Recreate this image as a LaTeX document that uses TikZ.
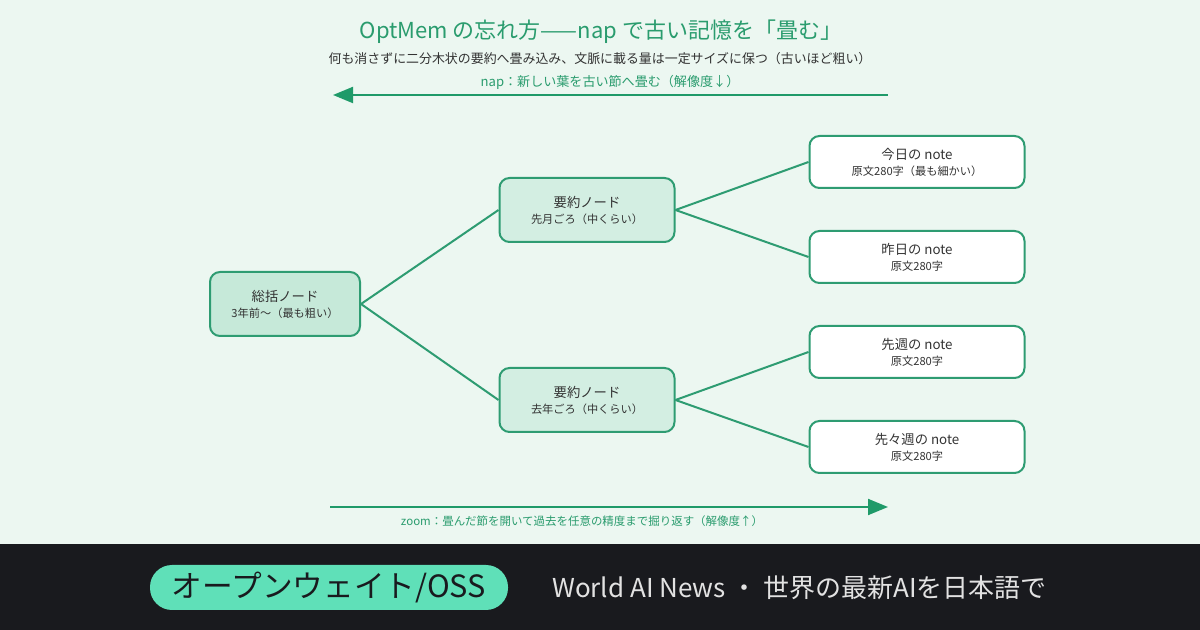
\documentclass[tikz,border=0pt]{standalone}
\usepackage{fontspec}
\setmainfont{Noto Sans CJK JP}
\usetikzlibrary{arrows.meta,positioning}

\definecolor{bgmint}{HTML}{ECF7F1}
\definecolor{edgegreen}{HTML}{2E9C72}
\definecolor{tipgreen}{HTML}{1F9A69}
\definecolor{titlegreen}{HTML}{2A9C6E}
\definecolor{rootfill}{HTML}{C6E9D9}
\definecolor{midfill}{HTML}{D3EEE2}
\definecolor{inkgray}{HTML}{333333}
\definecolor{footdark}{HTML}{191A1E}
\definecolor{pillmint}{HTML}{5FE0B8}
\definecolor{footgray}{HTML}{E2E2E2}

\tikzset{
  treebox/.style={draw=edgegreen,line width=1.5pt,rounded corners=7.5pt,
    align=center,text=inkgray,inner sep=0pt},
  rootbox/.style={treebox,fill=rootfill,minimum width=112.5pt,minimum height=48pt},
  midbox/.style={treebox,fill=midfill,minimum width=131.25pt,minimum height=48pt},
  leafbox/.style={treebox,fill=white,minimum width=161.25pt,minimum height=39pt},
  branch/.style={edgegreen,line width=1.5pt},
  timeline/.style={tipgreen,line width=1.5pt,-{Triangle[length=15pt,width=12pt]}},
}
\newcommand{\boxhead}[1]{{\fontsize{10}{15}\selectfont #1}}
\newcommand{\boxsub}[1]{{\fontsize{8.4}{10}\selectfont #1}}

\begin{document}
\begin{tikzpicture}[x=0.75pt,y=-0.75pt]
  \fill[bgmint] (0,0) rectangle (1200,630);
  \useasboundingbox (0,0) rectangle (1200,630);

  \node[text=titlegreen,font=\fontsize{16.5}{19}\selectfont] (title) at (601,32)
    {OptMem の忘れ方——nap で古い記憶を「畳む」};
  \node[text=inkgray,font=\fontsize{9.7}{12}\selectfont] (subtitle) at (600,59)
    {何も消さずに二分木状の要約へ畳み込み、文脈に載る量は一定サイズに保つ（古いほど粗い）};
  \node[text=titlegreen,font=\fontsize{9.8}{12}\selectfont] (naplabel) at (610,82)
    {nap：新しい葉を古い節へ畳む（解像度↓）};
  \coordinate (napstart) at (888,95);
  \coordinate (napend) at (333,95);
  \draw[timeline] (napstart) -- (napend);

  \node[rootbox] (root) at (285,304)
    {\boxhead{総括ノード}\\\boxsub{3年前〜（最も粗い）}};
  \node[midbox] (monthsum) at (587,210)
    {\boxhead{要約ノード}\\\boxsub{先月ごろ（中くらい）}};
  \node[midbox] (yearsum) at (587,400)
    {\boxhead{要約ノード}\\\boxsub{去年ごろ（中くらい）}};
  \node[leafbox] (today) at (917,162)
    {\boxhead{今日の note}\\\boxsub{原文280字（最も細かい）}};
  \node[leafbox] (yesterday) at (917,257)
    {\boxhead{昨日の note}\\\boxsub{原文280字}};
  \node[leafbox] (lastweek) at (917,352)
    {\boxhead{先週の note}\\\boxsub{原文280字}};
  \node[leafbox] (weekbefore) at (917,447)
    {\boxhead{先々週の note}\\\boxsub{原文280字}};

  \draw[branch] (root.east) -- (monthsum.west);
  \draw[branch] (root.east) -- (yearsum.west);
  \draw[branch] (monthsum.east) -- (today.west);
  \draw[branch] (monthsum.east) -- (yesterday.west);
  \draw[branch] (yearsum.east) -- (lastweek.west);
  \draw[branch] (yearsum.east) -- (weekbefore.west);

  \coordinate (zoomstart) at (330,507);
  \coordinate (zoomend) at (888,507);
  \draw[timeline] (zoomstart) -- (zoomend);
  \node[text=titlegreen,font=\fontsize{8.6}{11}\selectfont] (zoomlabel) at (582,521)
    {zoom：畳んだ節を開いて過去を任意の精度まで掘り返す（解像度↑）};

  \fill[footdark] (0,544) rectangle (1200,630);
  \node[fill=pillmint,rounded corners=16.5pt,minimum width=268.5pt,minimum height=33.75pt,
    inner sep=0pt,text=footdark,font=\fontsize{23}{26}\selectfont] (pill) at (329,587.5)
    {オープンウェイト/OSS};
  \node[anchor=west,text=footgray,inner sep=0pt,font=\fontsize{19.5}{22}\selectfont] (tagline) at (552,588)
    {World AI News ・ 世界の最新AIを日本語で};
\end{tikzpicture}
\end{document}
